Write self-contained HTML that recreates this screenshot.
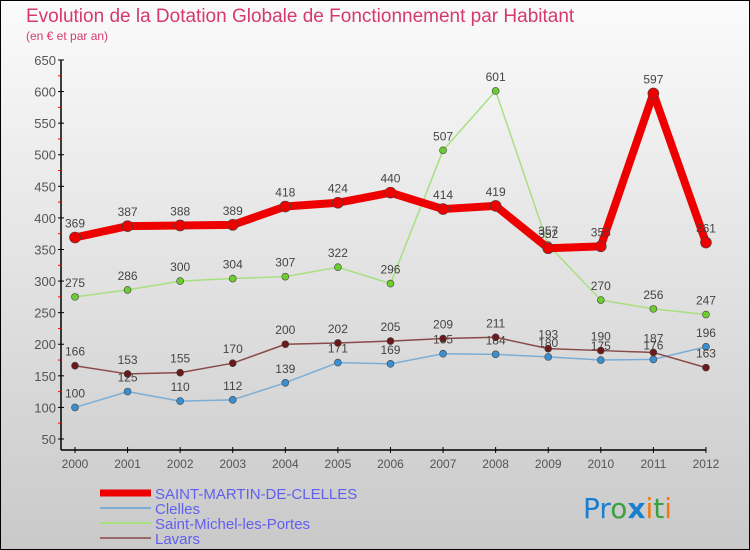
<!DOCTYPE html>
<html><head><meta charset="utf-8"><style>
body{margin:0;width:750px;height:550px;overflow:hidden;font-family:"Liberation Sans",sans-serif}
svg{display:block}
</style></head><body>
<svg id="c" width="750" height="550">
<defs><linearGradient id="bg" x1="0" y1="0" x2="0" y2="1"><stop offset="0" stop-color="#fbfbfb"/><stop offset="1" stop-color="#c9c9c9"/></linearGradient></defs>
<rect x="0" y="0" width="750" height="550" fill="url(#bg)" stroke="#000" stroke-width="2"/>
<text x="26" y="22" font-size="19" fill="#d63a6a">Evolution de la Dotation Globale de Fonctionnement par Habitant</text>
<text x="26" y="40" font-size="12" fill="#d63a6a">(en € et par an)</text>
<g id="axes"></g><g id="series"></g><g id="legend"></g>
<text x="583" y="518" font-size="28" font-family="DejaVu Sans"><tspan fill="#1a7fd0">Pr</tspan><tspan fill="#3aa040">o</tspan><tspan fill="#1a7fd0" font-weight="bold">x</tspan><tspan fill="#f07a10">i</tspan><tspan fill="#3aa040">t</tspan><tspan fill="#f07a10">i</tspan></text>
</svg>
<script>
const years=[2000,2001,2002,2003,2004,2005,2006,2007,2008,2009,2010,2011,2012];
const yTicks=[50,100,150,200,250,300,350,400,450,500,550,600,650];
const stMartin=[369,387,388,389,418,424,440,414,419,352,355,597,361];
const clelles=[100,125,110,112,139,171,169,185,184,180,175,176,196];
const stMichel=[275,286,300,304,307,322,296,507,601,357,270,256,247];
const lavars=[166,153,155,170,200,202,205,209,211,193,190,187,163];
const NS="http://www.w3.org/2000/svg";
const X=i=>75+i*52.58;
const Y=v=>439-(v-50)*0.6317;
function mk(t,a,p){const e=document.createElementNS(NS,t);for(const k in a)e.setAttribute(k,a[k]);p.appendChild(e);return e;}
const ax=document.getElementById('axes');
const yl=mk('line',{x1:61,y1:Y(650),x2:61,y2:450,stroke:'#000','stroke-width':1.5},ax);


const xl=mk('line',{x1:61,y1:450,x2:X(12),y2:450,stroke:'#000','stroke-width':1.5},ax);


yTicks.forEach((v,i)=>{
  mk('line',{x1:58,y1:Y(v),x2:64,y2:Y(v),stroke:'#000'},ax);
  if(i<yTicks.length-1)mk('line',{x1:58,y1:Y(v+25),x2:61,y2:Y(v+25),stroke:'#f00'},ax);
  const t=mk('text',{x:56,y:Y(v)+5,'text-anchor':'end','font-size':13,fill:'#555'},ax);
  t.textContent=v;
  
  
});
years.forEach((y,i)=>{
  mk('line',{x1:X(i),y1:447,x2:X(i),y2:453,stroke:'#000'},ax);
  const t=mk('text',{x:X(i),y:468,'text-anchor':'middle','font-size':12,fill:'#555'},ax);
  t.textContent=y;
  
  
});
const sg=document.getElementById('series');
function series(data,color,w,r,dot,name){
  const g=mk('g',{},sg);
  
  
  mk('polyline',{points:data.map((v,i)=>X(i)+','+Y(v)).join(' '),fill:'none',stroke:color,'stroke-width':w,'stroke-linejoin':'round'},g);
  data.forEach((v,i)=>{
    const c=mk('circle',{cx:X(i),cy:Y(v),r:r,fill:dot,stroke:'#444','stroke-width':0.6},g);
    
    
    const t=mk('text',{x:X(i),y:Y(v)-10,'text-anchor':'middle','font-size':12,fill:'#444'},g);
    t.textContent=v;
    
    
  });
}
series(clelles,'#7aaed6',1.5,3.5,'#3a8fd0','series-clelles');
series(lavars,'#8a4a4a',1.5,3.5,'#6a1a1a','series-lavars');
series(stMichel,'#a8e080',1.5,3.5,'#6ccc30','series-saint-michel');
series(stMartin,'#ee0000',8,5.5,'#ee0000','series-saint-martin');
const lg=document.getElementById('legend');
const items=[['SAINT-MARTIN-DE-CLELLES','#ee0000',7],['Clelles','#7aaed6',2],['Saint-Michel-les-Portes','#a8e080',2],['Lavars','#9a6a6a',2]];
items.forEach((it,i)=>{
  const y=493+i*15;
  const g=mk('g',{},lg);
  
  
  mk('line',{x1:100,y1:y,x2:151,y2:y,stroke:it[1],'stroke-width':it[2]},g);
  const t=mk('text',{x:155,y:y+6,'font-size':15,fill:'#6060f0'},g);
  t.textContent=it[0];
});
</script>
</body></html>
